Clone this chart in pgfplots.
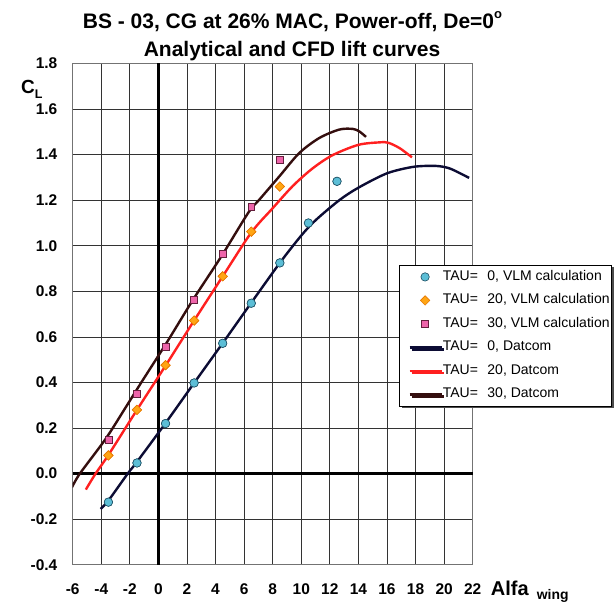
\documentclass[border=0pt]{standalone}
\usepackage{fontspec}
\setmainfont{Liberation Sans}
\usepackage{pgfplots}
\pgfplotsset{compat=1.18}
\usetikzlibrary{shadows}

\definecolor{navyline}{RGB}{12,12,52}
\definecolor{redline}{RGB}{255,32,32}
\definecolor{brownline}{RGB}{52,14,14}
\definecolor{circfill}{RGB}{92,190,214}
\definecolor{circedge}{RGB}{30,80,100}
\definecolor{diafill}{RGB}{255,165,20}
\definecolor{diaedge}{RGB}{230,120,0}
\definecolor{sqfill}{RGB}{238,100,170}
\definecolor{sqedge}{RGB}{100,30,60}

\pgfplotsset{
  vlmcirc/.style={only marks, mark=*, mark size=4.2pt,
    mark options={fill=circfill, draw=circedge, line width=0.6pt}},
  vlmdia/.style={only marks, mark=square*, mark size=3.3pt,
    mark options={fill=diafill, draw=diaedge, line width=0.6pt, rotate=45}},
  vlmsq/.style={only marks, mark=square*, mark size=3.4pt,
    mark options={fill=sqfill, draw=sqedge, line width=0.6pt}},
  markimg/.style={legend image code/.code={
    \path (-6.7pt,0pt) (32pt,0pt);
    \draw[mark repeat=2,mark phase=2,##1] plot coordinates {(0pt,0pt) (15.5pt,0pt) (31pt,0pt)};}},
  lineimg/.style={legend image code/.code={
    \path (-6.7pt,0pt);
    \draw[##1] (0pt,0pt) -- (32pt,0pt);}},
}

\begin{document}
\begin{tikzpicture}[x=1pt,y=1pt]
\path[use as bounding box] (0,0) rectangle (616,603);

% chart title
\node[anchor=base, inner sep=0pt, font=\bfseries\fontsize{21}{24}\selectfont] at (292.5,574.7)
  {BS - 03, CG at 26\% MAC, Power-off, De=0\raisebox{0.45em}{\fontsize{13}{13}\selectfont o}};
\node[anchor=base, inner sep=0pt, font=\bfseries\fontsize{21}{24}\selectfont] at (292,546.3)
  {Analytical and CFD lift curves};

% axis labels
\node[anchor=base west, inner sep=0pt, font=\bfseries\fontsize{19}{21}\selectfont] at (21,509)
  {C\raisebox{-4.5pt}{\fontsize{12.5}{13}\selectfont L}};
\node[anchor=base west, inner sep=0pt, font=\bfseries\fontsize{20}{22}\selectfont] at (490.7,8)
  {Alfa};
\node[anchor=base west, inner sep=0pt, font=\bfseries\fontsize{13.9}{15}\selectfont] at (536.7,3.7)
  {wing};

\begin{axis}[
  at={(72.7pt,38.2pt)}, anchor=south west,
  width=400pt, height=501.3pt, scale only axis,
  xmin=-6, xmax=22, ymin=-0.4, ymax=1.8,
  xtick={-6,-4,...,22},
  ytick={-0.4,-0.2,0,0.2,0.4,0.6,0.8,1.0,1.2,1.4,1.6,1.8},
  grid=major,
  major grid style={black!80, line width=0.8pt},
  axis line style={black!55, line width=1pt},
  major tick length=0pt,
  /pgf/number format/assume math mode=true,
  xticklabel style={font=\bfseries\fontsize{15.5}{18}\selectfont, anchor=base, inner sep=0pt, yshift=-29.2pt},
  yticklabel style={font=\bfseries\fontsize{15.5}{18}\selectfont, anchor=east, inner sep=0pt, xshift=-15.2pt,
    /pgf/number format/.cd, fixed, fixed zerofill, precision=1},
  extra x ticks={0}, extra x tick labels={},
  extra x tick style={grid=major, major grid style={black, line width=2.6pt}},
  extra y ticks={0}, extra y tick labels={},
  extra y tick style={grid=major, major grid style={black, line width=2.6pt}},
  legend style={at={(0.8165,0.598)}, anchor=north west, draw=black, line width=0.8pt, fill=white,
    font=\fontsize{14}{16}\selectfont, inner xsep=2pt, inner ysep=5pt, row sep=10.5pt,
    nodes={inner sep=0pt, text height=10pt, text depth=3pt},
    drop shadow={shadow xshift=2pt, shadow yshift=-2pt, fill=black!70, opacity=1}},
  legend cell align=left,
  /tikz/every even column/.append style={column sep=3.3pt},
]

% VLM calculation points
\addplot[vlmcirc, markimg] coordinates {
  (-3.5,-0.125) (-1.5,0.047) (0.5,0.220) (2.5,0.398) (4.5,0.572)
  (6.5,0.748) (8.5,0.925) (10.5,1.100) (12.5,1.283)};
\addlegendentry{TAU=\hspace{9.5pt}0, VLM calculation}
\addplot[vlmdia, markimg] coordinates {
  (-3.5,0.080) (-1.5,0.280) (0.5,0.476) (2.5,0.672) (4.5,0.866)
  (6.5,1.062) (8.5,1.260)};
\addlegendentry{TAU=\hspace{9.5pt}20, VLM calculation}
\addplot[vlmsq, markimg] coordinates {
  (-3.5,0.148) (-1.5,0.352) (0.5,0.558) (2.5,0.762) (4.5,0.966)
  (6.5,1.171) (8.5,1.376)};
\addlegendentry{TAU=\hspace{9.5pt}30, VLM calculation}

% Datcom lift curves
\addplot[navyline, line width=2.4pt, smooth, lineimg] coordinates {
  (-4.05,-0.155) (-3.5,-0.118) (-2.15,0.0) (-1.5,0.052) (0.5,0.222)
  (2.5,0.398) (4.5,0.573) (6.5,0.750) (8.5,0.925) (10.0,1.045)
  (11.0,1.112) (12.66,1.200) (14.0,1.255) (16.0,1.318) (17.8,1.346)
  (19.2,1.351) (20.0,1.346) (20.6,1.334) (21.75,1.298)};
\addlegendentry{TAU=\hspace{9.5pt}0, Datcom}
\addplot[redline, line width=2.4pt, smooth, lineimg] coordinates {
  (-5.08,-0.07) (-4.4,0.0) (-3.5,0.082) (-1.5,0.280) (0.5,0.474)
  (2.5,0.672) (4.5,0.866) (6.5,1.058) (8.0,1.165) (9.4,1.262)
  (10.8,1.340) (12.2,1.398) (14.0,1.443) (15.5,1.454) (16.1,1.452)
  (16.9,1.428) (17.75,1.388)};
\addlegendentry{TAU=\hspace{9.5pt}20, Datcom}
\addplot[brownline, line width=2.4pt, smooth, lineimg] coordinates {
  (-6.05,-0.06) (-5.5,0.0) (-3.7,0.152) (-2.3,0.290) (-1.2,0.400)
  (0.58,0.575) (2.45,0.766) (4.43,0.956) (6.3,1.146) (7.1,1.205)
  (8.47,1.305) (9.86,1.407) (11.26,1.473) (12.66,1.510) (13.6,1.513)
  (14.06,1.502) (14.53,1.478)};
\addlegendentry{TAU=\hspace{9.5pt}30, Datcom}

% points drawn again above the curves
\addplot[vlmcirc, forget plot] coordinates {
  (-3.5,-0.125) (-1.5,0.047) (0.5,0.220) (2.5,0.398) (4.5,0.572)
  (6.5,0.748) (8.5,0.925) (10.5,1.100) (12.5,1.283)};
\addplot[vlmdia, forget plot] coordinates {
  (-3.5,0.080) (-1.5,0.280) (0.5,0.476) (2.5,0.672) (4.5,0.866)
  (6.5,1.062) (8.5,1.260)};
\addplot[vlmsq, forget plot] coordinates {
  (-3.5,0.148) (-1.5,0.352) (0.5,0.558) (2.5,0.762) (4.5,0.966)
  (6.5,1.171) (8.5,1.376)};
\end{axis}
\end{tikzpicture}
\end{document}
